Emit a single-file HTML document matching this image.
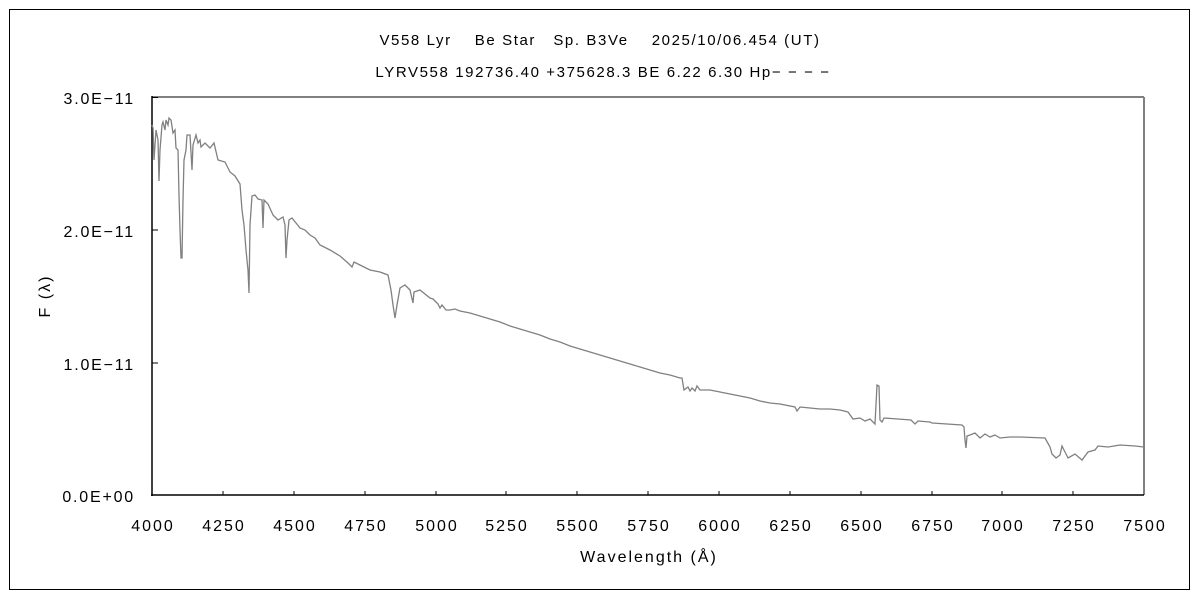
<!DOCTYPE html>
<html><head><meta charset="utf-8"><style>
html,body{margin:0;padding:0;background:#fff;}
svg{display:block;font-family:"Liberation Sans","Noto Sans CJK JP",sans-serif;}
</style></head><body>
<svg width="1200" height="600" viewBox="0 0 1200 600" xmlns="http://www.w3.org/2000/svg">
<rect x="0" y="0" width="1200" height="600" fill="#fff"/>
<rect x="9.5" y="9.5" width="1180" height="580" fill="none" stroke="#000" stroke-width="1"/>
<text x="600" y="45" font-size="15" text-anchor="middle" fill="#000" letter-spacing="1.6" xml:space="preserve">V558 Lyr    Be Star   Sp. B3Ve    2025/10/06.454 (UT)</text>
<text x="603" y="77" font-size="15" text-anchor="middle" fill="#000" letter-spacing="1.6">LYRV558 192736.40 +375628.3 BE 6.22 6.30 Hp− − − −</text>
<line x1="152" y1="97" x2="1144" y2="97" stroke="#808080" stroke-width="2"/>
<line x1="1144" y1="97" x2="1144" y2="495" stroke="#808080" stroke-width="2"/>
<line x1="152" y1="96" x2="152" y2="496" stroke="#000" stroke-width="1.5"/>
<line x1="151" y1="495" x2="1144" y2="495" stroke="#000" stroke-width="1.5"/>
<g stroke="#000" stroke-width="1">
<line x1="152" y1="97.5" x2="158" y2="97.5"/>
<line x1="152" y1="230" x2="158" y2="230"/>
<line x1="152" y1="363" x2="158" y2="363"/>
<line x1="223" y1="495" x2="223" y2="491"/><line x1="294" y1="495" x2="294" y2="491"/><line x1="365" y1="495" x2="365" y2="491"/><line x1="436" y1="495" x2="436" y2="491"/><line x1="506" y1="495" x2="506" y2="491"/><line x1="577" y1="495" x2="577" y2="491"/><line x1="648" y1="495" x2="648" y2="491"/><line x1="719" y1="495" x2="719" y2="491"/><line x1="790" y1="495" x2="790" y2="491"/><line x1="861" y1="495" x2="861" y2="491"/><line x1="932" y1="495" x2="932" y2="491"/><line x1="1002" y1="495" x2="1002" y2="491"/><line x1="1073" y1="495" x2="1073" y2="491"/>
</g>
<g font-size="16" fill="#000" text-anchor="end" letter-spacing="1.8">
<text x="135" y="104">3.0E−11</text>
<text x="135" y="237">2.0E−11</text>
<text x="135" y="370">1.0E−11</text>
<text x="135" y="502">0.0E+00</text>
</g>
<g font-size="16" fill="#000" text-anchor="middle" letter-spacing="2">
<text x="153" y="531">4000</text><text x="224" y="531">4250</text><text x="295" y="531">4500</text><text x="366" y="531">4750</text><text x="437" y="531">5000</text><text x="507" y="531">5250</text><text x="578" y="531">5500</text><text x="649" y="531">5750</text><text x="720" y="531">6000</text><text x="791" y="531">6250</text><text x="862" y="531">6500</text><text x="933" y="531">6750</text><text x="1003" y="531">7000</text><text x="1074" y="531">7250</text><text x="1145" y="531">7500</text>
<text x="649" y="562">Wavelength (Å)</text>
</g>
<text x="50" y="296" font-size="16" text-anchor="middle" letter-spacing="2" transform="rotate(-90 50 296)">F (λ)</text>
<polyline fill="none" stroke="#808080" stroke-width="1.3" points="152,125 153,128 154,160 156,130 158,140 159,181 160,150 162,125 163,122 165,130 166,120 168,125 169,118 171,120 173,133 175,130 176,148 178,150 179,195 180,230 181,258 182,258 183,200 184,160 186,150 187,135 190,135 192,170 193,145 196,135 198,143 200,140 201,147 205,143 210,148 214,143 218,160 225,162 230,172 235,176 240,184 242,210 244,225 246,250 248,270 249,293 250,225 252,196 255,195 258,199 262,200 263,228 264,200 268,204 273,215 278,220 283,217 285,225 286,258 287,240 289,220 292,218 300,228 305,230 310,235 315,238 320,245 330,250 340,256 348,263 352,267 354,262 360,265 370,270 380,272 388,275 391,290 393,305 395,318 397,305 400,288 405,285 410,290 413,303 414,292 420,290 430,298 433,299 438,304 440,308 442,305 446,310 450,310 455,309 460,311 470,313 480,316 490,319 500,322 510,326 520,329 530,332 540,335 550,339 560,342 570,346 580,349 590,352 600,355 610,358 620,361 630,364 640,367 650,370 660,373 670,375 680,378 682,378 684,390 688,387 690,391 692,388 695,391 697,386 700,390 705,390 710,390 720,392 730,394 740,396 750,398 760,401 770,403 780,404 795,407 797,411 800,407 810,408 820,409 830,409 840,410 848,412 853,419 860,418 865,421 870,419 875,424 877,385 879,386 880,420 882,422 884,418 898,419 911,420 915,424 918,421 930,422 932,423 962,425 964,427 965,440 966,448 967,436 970,435 975,433 980,438 985,434 990,437 995,435 1000,438 1010,437 1020,437 1045,438 1050,447 1052,454 1056,458 1060,455 1062,446 1065,452 1068,458 1075,454 1082,460 1088,452 1095,450 1098,446 1108,447 1120,445 1135,446 1144,447"/>
</svg>
</body></html>
